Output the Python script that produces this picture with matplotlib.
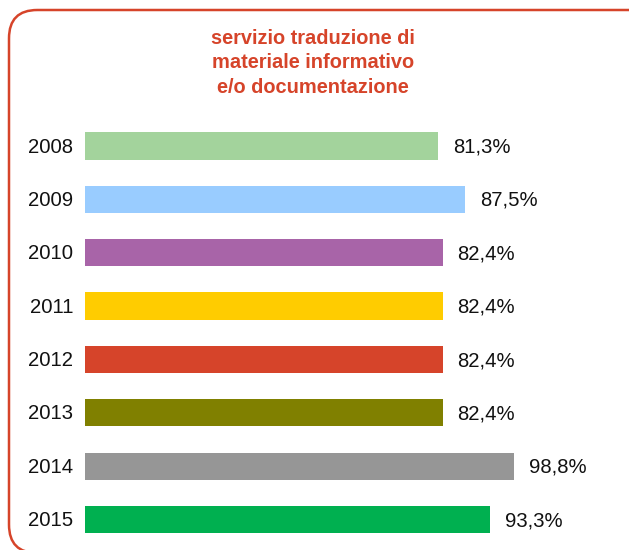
import matplotlib
matplotlib.use("Agg")
import matplotlib.pyplot as plt
from matplotlib.patches import FancyBboxPatch

years = ["2008", "2009", "2010", "2011", "2012", "2013", "2014", "2015"]
values = [81.3, 87.5, 82.4, 82.4, 82.4, 82.4, 98.8, 93.3]
labels = ["81,3%", "87,5%", "82,4%", "82,4%", "82,4%", "82,4%", "98,8%", "93,3%"]
colors = ["#A3D39C", "#99CCFF", "#A864A8", "#FFCC00", "#D6442A", "#808000", "#969696", "#00B050"]
title = "servizio traduzione di\nmateriale informativo\ne/o documentazione"

W, H = 629, 550
fig = plt.figure(figsize=(W / 100, H / 100), dpi=100)
fig.patch.set_facecolor("white")

# rounded frame (bottom and right edges run just past the image)
frame = FancyBboxPatch((9 / W, -3 / H), (660 - 9) / W, (540 + 3) / H,
                       boxstyle="round,pad=0,rounding_size=0.045",
                       transform=fig.transFigure, fill=False,
                       edgecolor="#D6442A", linewidth=1.8, mutation_aspect=W / H)
fig.add_artist(frame)

fig.text(313 / W, 1 - 63 / H, title, ha="center", va="center", color="#D6442A",
         fontsize=14.4, fontweight="bold", family="Liberation Sans", linespacing=1.34)

spacing = 53.36
top = 146 - spacing / 2
bottom = top + spacing * len(years)
ax = fig.add_axes([85 / W, 1 - bottom / H, 434.2 / W, (bottom - top) / H])
ax.set_xlim(0, 100)
ax.set_ylim(len(years) - 0.5, -0.5)
pos = list(range(len(years)))
ax.barh(pos, values, height=0.51, color=colors)
for p, v, lab, yr in zip(pos, values, labels, years):
    ax.text(v + 3.4, p + 0.02, lab, ha="left", va="center", fontsize=14.6,
            family="Liberation Sans", color="#111111")
    ax.text(-2.7, p + 0.02, yr, ha="right", va="center", fontsize=14.6,
            family="Liberation Sans", color="#111111")
ax.axis("off")

fig.savefig("out.png", dpi=100, facecolor="white")
